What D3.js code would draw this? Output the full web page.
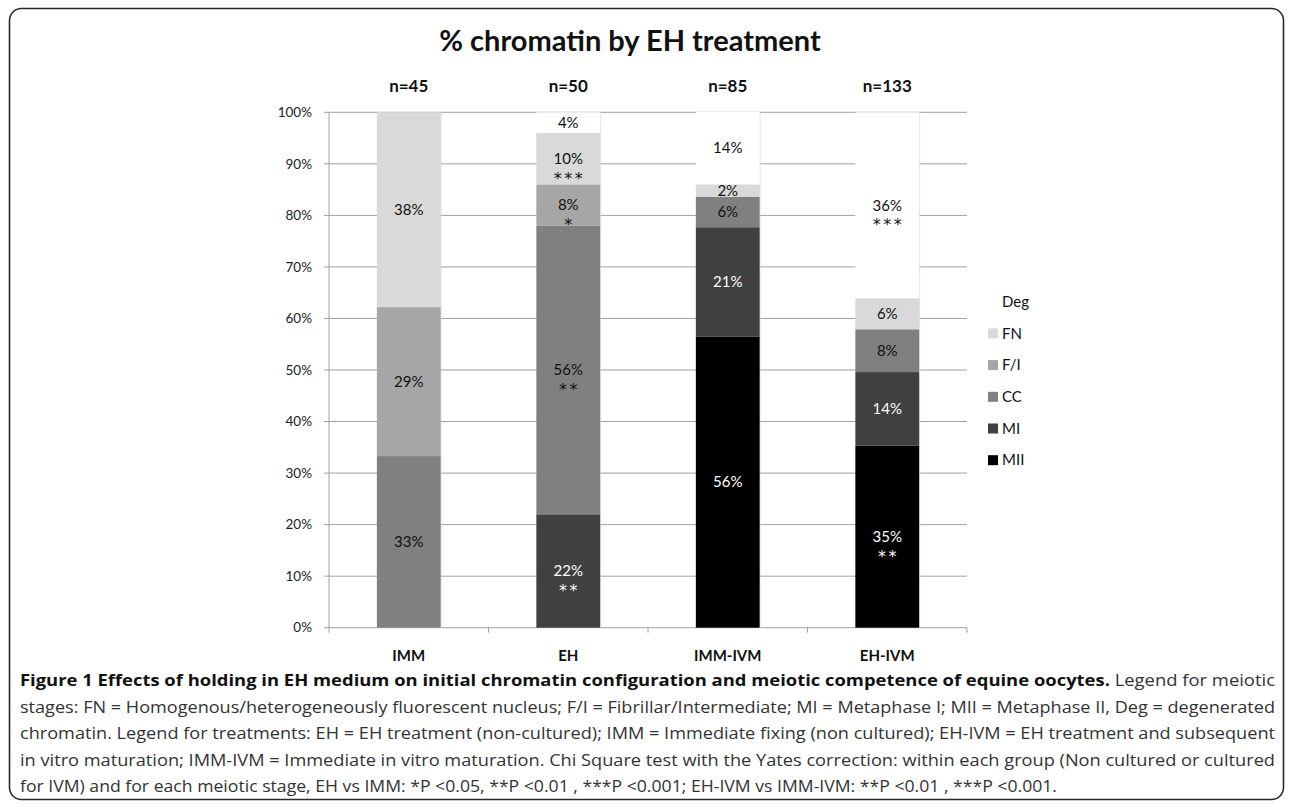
<!DOCTYPE html>
<html>
<head>
<meta charset="utf-8">
<script src="https://cdn.jsdelivr.net/npm/d3@7"></script>
<style>
  body { margin: 0; background: #fff; }
  svg { display: block; font-family: Lato, "Open Sans", sans-serif; }
</style>
</head>
<body>
<svg id="chart" width="1290" height="812"></svg>
<script>
// chart data
const categories = ["IMM", "EH", "IMM-IVM", "EH-IVM"]
const sampleSizes = ["n=45", "n=50", "n=85", "n=133"]
const stages = ["MII", "MI", "CC", "F/I", "FN", "Deg"]
const legendOrder = ["Deg", "FN", "F/I", "CC", "MI", "MII"]

const MII = [0, 0, 56.5, 35.3]
const MI = [0, 22, 21.2, 14.3]
const CC = [33.3, 56, 5.9, 8.3]
const FI = [28.9, 8, 0, 0]
const FN = [37.8, 10, 2.4, 6.0]
const Deg = [0, 4, 14.1, 36.1]

const labelText = {
  "MII": ["", "", "56%", "35%"],
  "MI": ["", "22%", "21%", "14%"],
  "CC": ["33%", "56%", "6%", "8%"],
  "F/I": ["29%", "8%", "", ""],
  "FN": ["38%", "10%", "2%", "6%"],
  "Deg": ["", "4%", "14%", "36%"]
}
const labelStars = {
  "MII": ["", "", "", "**"],
  "MI": ["", "**", "", ""],
  "CC": ["", "**", "", ""],
  "F/I": ["", "*", "", ""],
  "FN": ["", "***", "", ""],
  "Deg": ["", "", "", "***"]
}
const yTicks = [0, 10, 20, 30, 40, 50, 60, 70, 80, 90, 100]

const colors = {
  "MII": "#000000", "MI": "#404040", "CC": "#808080",
  "F/I": "#a6a6a6", "FN": "#d9d9d9", "Deg": "#ffffff"
}
const whiteText = new Set(["MII", "MI"])

const captionLines = [
  [["Figure 1 Effects of holding in EH medium on initial chromatin configuration and meiotic competence of equine oocytes.", true], [" Legend for meiotic", false]],
  [["stages: FN = Homogenous/heterogeneously fluorescent nucleus; F/I = Fibrillar/Intermediate; MI = Metaphase I; MII = Metaphase II, Deg = degenerated", false]],
  [["chromatin. Legend for treatments: EH = EH treatment (non-cultured); IMM = Immediate fixing (non cultured); EH-IVM = EH treatment and subsequent", false]],
  [["in vitro maturation; IMM-IVM = Immediate in vitro maturation. Chi Square test with the Yates correction: within each group (Non cultured or cultured", false]],
  [["for IVM) and for each meiotic stage, EH vs IMM: *P <0.05, **P <0.01 , ***P <0.001; EH-IVM vs IMM-IVM: **P <0.01 , ***P <0.001.", false]]
]
const captionWidths = [1255, 1255, 1255, 1255, 1037]

const rows = categories.map((c, i) => ({
  cat: c, "MII": MII[i], "MI": MI[i], "CC": CC[i], "F/I": FI[i], "FN": FN[i], "Deg": Deg[i]
}))

const svg = d3.select("#chart")
const margin = {left: 329, right: 323, top: 112.3, bottom: 184.3}
const width = 1290 - margin.left - margin.right
const height = 812 - margin.top - margin.bottom

// frame
svg.append("rect")
  .attr("x", 9.5).attr("y", 8.5)
  .attr("width", 1274).attr("height", 791)
  .attr("rx", 12).attr("ry", 12)
  .attr("fill", "#fff")
  .attr("stroke", "#2a2a2a")
  .attr("stroke-width", 1.6)

svg.append("text")
  .attr("x", 630).attr("y", 51)
  .attr("text-anchor", "middle")
  .attr("font-size", 29).attr("font-weight", "bold")
  .attr("fill", "#111")
  .text("% chromatin by EH treatment")

const x = d3.scaleBand().domain(categories).range([0, width]).paddingInner(0.6).paddingOuter(0.3)
const y = d3.scaleLinear().domain([0, 100]).range([height, 0])

const g = svg.append("g").attr("transform", `translate(${margin.left},${margin.top})`)

// gridlines
g.append("g")
  .selectAll("line")
  .data(yTicks)
  .join("line")
  .attr("x1", -5).attr("x2", width)
  .attr("y1", d => y(d)).attr("y2", d => y(d))
  .attr("stroke", "#a0a0a0").attr("stroke-width", 1)

g.append("g")
  .selectAll("text")
  .data(yTicks)
  .join("text")
  .attr("x", -17).attr("y", d => y(d))
  .attr("dy", "0.35em")
  .attr("text-anchor", "end")
  .attr("font-size", 13.5).attr("fill", "#222")
  .text(d => `${d}%`)

// y axis line
g.append("line")
  .attr("x1", 0).attr("x2", 0).attr("y1", 0).attr("y2", height + 5)
  .attr("stroke", "#a0a0a0")

// x ticks at band boundaries
const bounds = d3.range(1, categories.length + 1).map(i => i * width / categories.length)
g.append("g")
  .selectAll("line")
  .data(bounds)
  .join("line")
  .attr("x1", d => d).attr("x2", d => d)
  .attr("y1", height).attr("y2", height + 5)
  .attr("stroke", "#a0a0a0")

// bars
const series = d3.stack().keys(stages)(rows)

g.append("g")
  .selectAll("rect")
  .data(categories)
  .join("rect")
  .attr("x", d => x(d) + 1).attr("y", y(100))
  .attr("width", x.bandwidth()).attr("height", height)
  .attr("fill", "#d4d4d4").attr("opacity", 0.6)

const layers = g.append("g")
  .selectAll("g")
  .data(series)
  .join("g")
  .attr("fill", d => colors[d.key])

layers.selectAll("rect")
  .data(d => d)
  .join("rect")
  .attr("x", d => x(d.data.cat))
  .attr("y", d => y(d[1]))
  .attr("width", x.bandwidth())
  .attr("height", d => y(d[0]) - y(d[1]))

// segment labels
series.forEach(s => {
  s.forEach((d, i) => {
    const txt = labelText[s.key][i]
    if (!txt) return
    const cx = x(d.data.cat) + x.bandwidth() / 2
    const cy = (y(d[0]) + y(d[1])) / 2
    const fill = whiteText.has(s.key) ? "#fff" : "#111"
    g.append("text")
      .attr("x", cx).attr("y", cy)
      .attr("dy", "0.35em")
      .attr("text-anchor", "middle")
      .attr("font-size", 15).attr("fill", fill)
      .text(txt)
    const stars = labelStars[s.key][i]
    if (stars) {
      g.append("text")
        .attr("x", cx + 1.3).attr("y", cy + 25)
        .attr("text-anchor", "middle")
        .style("font-family", "'DejaVu Sans', sans-serif")
        .attr("font-size", 16).attr("fill", fill)
        .attr("letter-spacing", 2.5)
        .text(stars)
    }
  })
})

// n labels
g.append("g")
  .selectAll("text")
  .data(categories)
  .join("text")
  .attr("x", d => x(d) + x.bandwidth() / 2)
  .attr("y", -20)
  .attr("text-anchor", "middle")
  .attr("font-size", 17).attr("font-weight", "bold").attr("fill", "#111")
  .text((d, i) => sampleSizes[i])

// category labels
g.append("g")
  .selectAll("text")
  .data(categories)
  .join("text")
  .attr("x", d => x(d) + x.bandwidth() / 2)
  .attr("y", height + 33)
  .attr("text-anchor", "middle")
  .attr("font-size", 15).attr("font-weight", "bold").attr("fill", "#111")
  .text(d => d)

// legend
const legend = svg.append("g").attr("transform", "translate(988,301.7)")
const li = legend.selectAll("g")
  .data(legendOrder)
  .join("g")
  .attr("transform", (d, i) => `translate(0,${i * 31.7})`)
li.append("rect")
  .attr("x", 0).attr("y", -5).attr("width", 10).attr("height", 10)
  .attr("fill", d => colors[d])
li.append("text")
  .attr("x", 14).attr("dy", "0.35em")
  .attr("font-size", 15).attr("fill", "#111")
  .text(d => d)

// caption
const cap = svg.append("g").attr("transform", "translate(20,0)")
captionLines.forEach((parts, i) => {
  const t = cap.append("text")
    .attr("y", 686 + i * 26.5)
    .style("font-family", "'Liberation Sans Narrow', 'Open Sans', sans-serif")
    .attr("font-size", 16).attr("fill", "#333")
    .attr("textLength", captionWidths[i])
    .attr("lengthAdjust", "spacingAndGlyphs")
  parts.forEach(([s, bold]) => {
    t.append("tspan")
      .attr("font-weight", bold ? "bold" : "normal")
      .attr("fill", bold ? "#111" : "#333")
      .text(s)
  })
})
</script>
</body>
</html>
